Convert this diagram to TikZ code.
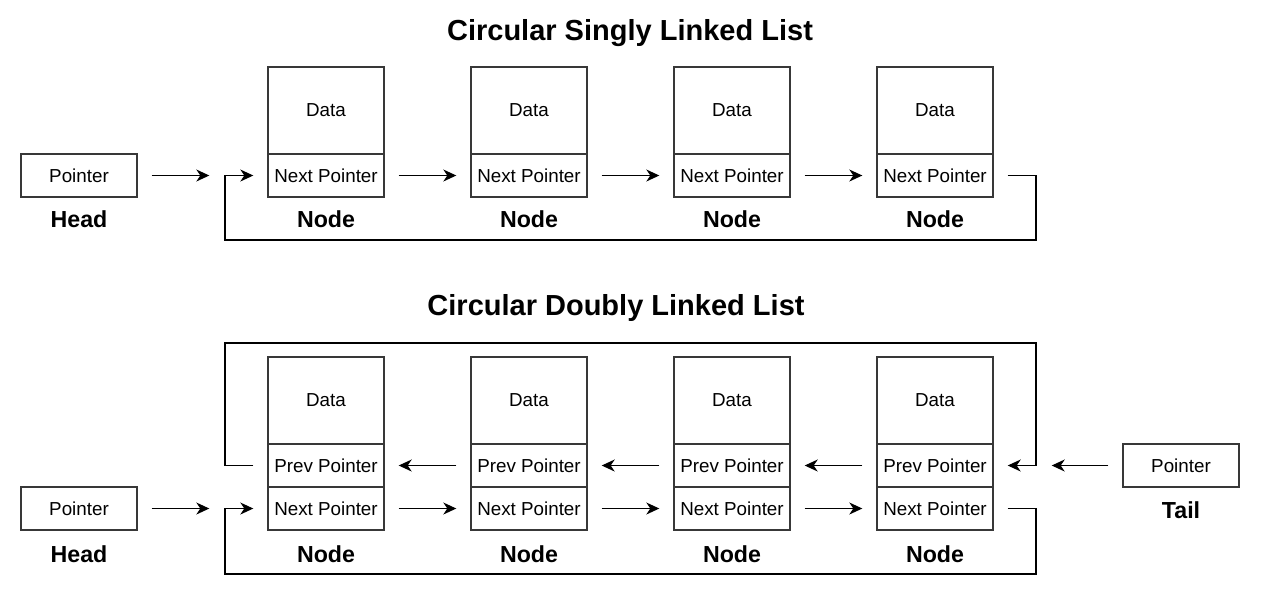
\documentclass[tikz,border=0pt]{standalone}
\usepackage{fontspec}
\setmainfont{Liberation Sans}
\usetikzlibrary{arrows.meta}

\begin{document}
\begin{tikzpicture}[x=0.5pt,y=-0.5pt,
        cell/.style={draw=black!78,line width=0.7pt,minimum width=58pt,minimum height=21.5pt,inner sep=0pt,font=\fontsize{9.4}{11}\selectfont},
        datacell/.style={cell,minimum height=43.5pt},
        caption/.style={font=\fontsize{11.6}{13}\selectfont\bfseries},
        heading/.style={font=\fontsize{14.5}{17}\selectfont\bfseries},
        tip/.style={-{Stealth[length=6.5pt,width=6pt,inset=2pt]}},
        arr/.style={tip,line width=0.6pt,shorten <=7pt,shorten >=7pt},
        link/.style={tip,line width=0.6pt,shorten >=7pt}]
        \useasboundingbox (0,0) rectangle (1261,596);

        % singly linked
        \node[heading] (title1) at (630,33) {Circular Singly Linked List};

        \node[cell] (head1) at (79,175.5) {Pointer};
        \node[caption] (head1lbl) at (79,219) {Head};

        \node[datacell] (d1) at (326,110.5) {Data};
        \node[datacell] (d2) at (529,110.5) {Data};
        \node[datacell] (d3) at (732,110.5) {Data};
        \node[datacell] (d4) at (935,110.5) {Data};
        \node[cell] (n1) at (326,175.5) {Next Pointer};
        \node[cell] (n2) at (529,175.5) {Next Pointer};
        \node[cell] (n3) at (732,175.5) {Next Pointer};
        \node[cell] (n4) at (935,175.5) {Next Pointer};
        \node[caption] (k1) at (326,219) {Node};
        \node[caption] (k2) at (529,219) {Node};
        \node[caption] (k3) at (732,219) {Node};
        \node[caption] (k4) at (935,219) {Node};

        \coordinate (r1) at (1036,240);
        \coordinate (l1) at (225,240);

        \draw[arr,shorten >=29pt] (head1) -- (n1);
        \draw[arr] (n1) -- (n2);
        \draw[arr] (n2) -- (n3);
        \draw[arr] (n3) -- (n4);
        \draw[link] ([xshift=7pt]n4.east) -| (r1) -- (l1) |- (n1.west);

        % doubly linked
        \node[heading] (title2) at (616,308) {Circular Doubly Linked List};

        \node[cell] (head2) at (79,508.5) {Pointer};
        \node[caption] (head2lbl) at (79,554) {Head};
        \node[cell] (tail) at (1181,465.5) {Pointer};
        \node[caption] (taillbl) at (1181,510) {Tail};

        \node[datacell] (D1) at (326,400.5) {Data};
        \node[datacell] (D2) at (529,400.5) {Data};
        \node[datacell] (D3) at (732,400.5) {Data};
        \node[datacell] (D4) at (935,400.5) {Data};
        \node[cell] (P1) at (326,465.5) {Prev Pointer};
        \node[cell] (P2) at (529,465.5) {Prev Pointer};
        \node[cell] (P3) at (732,465.5) {Prev Pointer};
        \node[cell] (P4) at (935,465.5) {Prev Pointer};
        \node[cell] (N1) at (326,508.5) {Next Pointer};
        \node[cell] (N2) at (529,508.5) {Next Pointer};
        \node[cell] (N3) at (732,508.5) {Next Pointer};
        \node[cell] (N4) at (935,508.5) {Next Pointer};
        \node[caption] (K1) at (326,554) {Node};
        \node[caption] (K2) at (529,554) {Node};
        \node[caption] (K3) at (732,554) {Node};
        \node[caption] (K4) at (935,554) {Node};

        \coordinate (r2) at (1036,343);
        \coordinate (l2) at (225,343);
        \coordinate (r3) at (1036,574);
        \coordinate (l3) at (225,574);

        \draw[arr,shorten >=29pt] (head2) -- (N1);
        \draw[arr] (N1) -- (N2);
        \draw[arr] (N2) -- (N3);
        \draw[arr] (N3) -- (N4);
        \draw[arr] (P2) -- (P1);
        \draw[arr] (P3) -- (P2);
        \draw[arr] (P4) -- (P3);
        \draw[arr,shorten >=29pt] (tail) -- (P4);
        \draw[link] ([xshift=-7pt]P1.west) -| (l2) -- (r2) |- (P4.east);
        \draw[link] ([xshift=7pt]N4.east) -| (r3) -- (l3) |- (N1.west);
    \end{tikzpicture}
\end{document}
